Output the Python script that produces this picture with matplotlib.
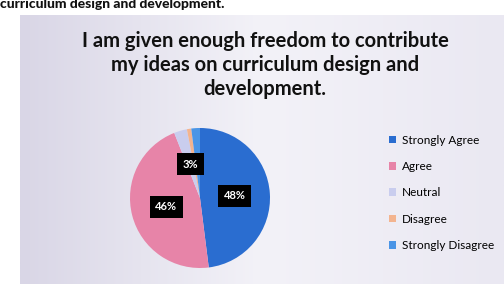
import matplotlib.pyplot as plt
import numpy as np
from matplotlib.colors import LinearSegmentedColormap

categories = ['Strongly Agree', 'Agree', 'Neutral', 'Disagree', 'Strongly Disagree']
shares = [48, 46, 3, 1, 2]
colors = ['#2a6dd0', '#e784a8', '#c9cdee', '#f3b48f', '#4a95e6']

title = 'I am given enough freedom to contribute\nmy ideas on curriculum design and\ndevelopment.'
caption = 'curriculum design and development.'

W, H = 504, 284
fig = plt.figure(figsize=(W / 100, H / 100), dpi=100)
fig.patch.set_facecolor('white')

# slide panel with a soft gradient
bg = fig.add_axes([20 / W, 0, 1 - 20 / W, 1 - 15 / H])
grad = np.linspace(0, 1, 256)[None, :]
cmap = LinearSegmentedColormap.from_list('bg', ['#d9d6e6', '#f3f2f8', '#eae8f2'])
bg.imshow(grad, aspect='auto', cmap=cmap, extent=[0, 1, 0, 1])
bg.set_axis_off()

fig.text(0.0, 1 - 4 / H, caption, ha='left', va='center', fontsize=10,
         fontweight='black', family='Lato', color='#111111')

fig.text(265 / W, 1 - 65 / H, title, ha='center', va='center', fontsize=14.5,
         fontweight='bold', family='Lato', color='#111111', linespacing=1.25)

ax = fig.add_axes([130 / W, 16 / H, 140 / W, 140 / H])


def fmt(p):
    return f'{p:.0f}%' if p >= 2.5 else ''


wedges, texts, autotexts = ax.pie(shares, colors=colors, startangle=90, counterclock=False,
                                  autopct=fmt, pctdistance=0.5,
                                  wedgeprops=dict(edgecolor='none'),
                                  textprops=dict(color='white', fontsize=8, fontweight='bold',
                                                 family='Lato'))
for t in autotexts:
    if t.get_text():
        t.set_bbox(dict(facecolor='black', edgecolor='none', pad=4))
ax.set_xlim(-1, 1)
ax.set_ylim(-1, 1)
ax.set_aspect('equal')

leg = fig.legend(wedges, categories, loc='upper left', bbox_to_anchor=(378 / W, 1 - 124 / H),
                 frameon=False, handlelength=0.6, handleheight=0.6,
                 handletextpad=0.5, labelspacing=1.3, prop=dict(family='Lato', size=8.5))

fig.savefig('out.png', dpi=100)
